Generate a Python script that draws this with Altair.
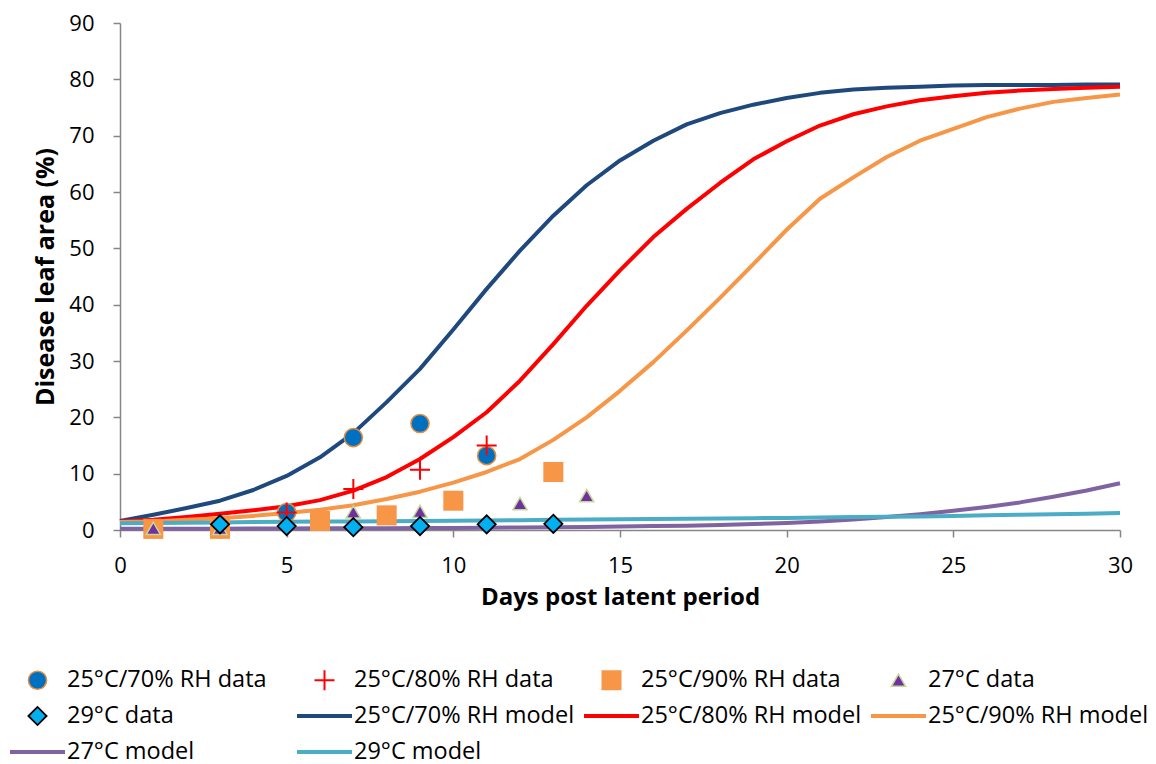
import altair as alt
import pandas as pd

# ---------------- data ----------------
series = [
    "25°C/70% RH data", "25°C/80% RH data", "25°C/90% RH data", "27°C data",
    "29°C data", "25°C/70% RH model", "25°C/80% RH model", "25°C/90% RH model",
    "27°C model", "29°C model",
]

days = list(range(31))
m70 = [1.6, 2.7, 3.9, 5.2, 7.1, 9.6, 12.9, 17.2, 22.7, 28.6, 35.6, 42.8, 49.6, 55.8, 61.2,
       65.6, 69.1, 72.0, 74.0, 75.5, 76.7, 77.6, 78.2, 78.5, 78.7, 78.9, 79.0, 79.0, 79.0, 79.1, 79.1]
m80 = [1.5, 1.8, 2.3, 2.9, 3.5, 4.2, 5.3, 7.0, 9.4, 12.6, 16.5, 20.9, 26.5, 33.0, 39.8,
       46.1, 52.0, 57.0, 61.6, 65.8, 69.0, 71.8, 73.8, 75.2, 76.3, 77.0, 77.6, 78.0, 78.3, 78.5, 78.7]
m90 = [1.4, 1.5, 1.8, 2.1, 2.5, 3.0, 3.6, 4.4, 5.5, 6.8, 8.4, 10.3, 12.6, 16.0, 20.0,
       24.7, 29.8, 35.4, 41.2, 47.2, 53.3, 58.8, 62.6, 66.2, 69.1, 71.2, 73.3, 74.8, 76.0, 76.7, 77.3]
m27 = [0.2, 0.2, 0.2, 0.2, 0.25, 0.25, 0.3, 0.3, 0.3, 0.35, 0.35, 0.4, 0.45, 0.5, 0.55,
       0.6, 0.7, 0.75, 0.9, 1.05, 1.25, 1.5, 1.85, 2.3, 2.8, 3.4, 4.1, 4.9, 5.9, 7.0, 8.3]
m29 = [1.2, 1.25, 1.3, 1.35, 1.4, 1.45, 1.5, 1.5, 1.55, 1.6, 1.65, 1.7, 1.75, 1.8, 1.85,
       1.9, 1.95, 2.0, 2.05, 2.1, 2.15, 2.2, 2.3, 2.35, 2.4, 2.5, 2.6, 2.7, 2.8, 2.9, 3.0]

d70_x = [5, 7, 9, 11]
d70_y = [3.1, 16.4, 18.9, 13.2]
d80_x = [5, 7, 9, 11]
d80_y = [3.1, 7.3, 10.7, 15.0]
d90_x = [1, 3, 6, 8, 10, 13]
d90_y = [0.2, 0.2, 1.6, 2.6, 5.2, 10.3]
d27_x = [1, 3, 7, 9, 12, 14]
d27_y = [0.3, 0.3, 3.2, 3.3, 4.7, 6.1]
d29_x = [3, 5, 7, 9, 11, 13]
d29_y = [1.0, 0.7, 0.5, 0.7, 1.0, 1.1]

x_ticks = [0, 5, 10, 15, 20, 25, 30]
y_ticks = [0, 10, 20, 30, 40, 50, 60, 70, 80, 90]

# ---------------- styles ----------------
fill_range = ["#0070C0", "transparent", "#F79646", "#7030A0", "#00B0F0",
              "transparent", "transparent", "transparent", "transparent", "transparent"]
stroke_range = ["#E58C3E", "#FF0000", "#F79646", "#C4D79B", "#000000",
                "#1F497D", "#FF0000", "#F79646", "#8064A2", "#4BACC6"]
shape_range = ["circle", "M-1,0H1M0,-1V1", "square", "triangle-up", "diamond",
               "stroke", "stroke", "stroke", "stroke", "stroke"]
size_range = [330, 400, 400, 200, 330, 3025, 3025, 3025, 3025, 3025]
sw_range = [1.5, 2, 0, 1.5, 1.8, 4, 4, 4, 4, 4]

FONT = "Open Sans"

# ---------------- tables ----------------
model_vals = [m70, m80, m90, m27, m29]
line_rows = []
for name, vals in zip(series[5:], model_vals):
    for d, v in zip(days, vals):
        line_rows.append({"series": name, "day": d, "value": v})
lines_df = pd.DataFrame(line_rows)

pt_sets = [(d70_x, d70_y), (d80_x, d80_y), (d90_x, d90_y), (d27_x, d27_y), (d29_x, d29_y)]
pt_rows = []
for name, (xs, ys) in zip(series[:5], pt_sets):
    for d, v in zip(xs, ys):
        pt_rows.append({"series": name, "day": d, "value": v})
pts_df = pd.DataFrame(pt_rows)

legend = alt.Legend(
    title=None, orient="none", direction="horizontal", legendX=-112, legendY=646,
    columns=4, gridAlign="all", columnPadding=7, rowPadding=12, clipHeight=22,
    labelFont=FONT, labelFontSize=23.5, labelLimit=600, labelOffset=0,
    labelColor="#000000",
)

x_enc = alt.X("day:Q", scale=alt.Scale(domain=[0, 30], nice=False),
              axis=alt.Axis(values=x_ticks, title="Days post latent period"))
y_enc = alt.Y("value:Q", scale=alt.Scale(domain=[0, 90], nice=False),
              axis=alt.Axis(values=y_ticks, title="Disease leaf area (%)"))

stroke_enc = alt.Stroke("series:N", scale=alt.Scale(domain=series, range=stroke_range), legend=legend)
sw_enc = alt.StrokeWidth("series:N", scale=alt.Scale(type="ordinal", domain=series, range=sw_range),
                         legend=legend)

lines = alt.Chart(lines_df).mark_line(opacity=1, strokeCap="butt", strokeJoin="round").encode(
    x=x_enc, y=y_enc, stroke=stroke_enc, strokeWidth=sw_enc,
    order=alt.Order("day:Q"),
)

points = alt.Chart(pts_df).mark_point(filled=True, opacity=1).encode(
    x=x_enc, y=y_enc,
    fill=alt.Fill("series:N", scale=alt.Scale(domain=series, range=fill_range), legend=legend),
    stroke=stroke_enc,
    shape=alt.Shape("series:N", scale=alt.Scale(domain=series, range=shape_range), legend=legend),
    size=alt.Size("series:N", scale=alt.Scale(type="ordinal", domain=series, range=size_range),
                  legend=legend),
    strokeWidth=sw_enc,
)

chart = alt.layer(lines, points).properties(
    width=1000, height=507,
    padding={"left": 8, "top": 12, "right": 2, "bottom": 2},
).configure_view(stroke=None).configure_axis(
    grid=False, domainColor="#868686", domainWidth=1.5, tickColor="#868686",
    tickWidth=1.5, tickSize=7, labelFont=FONT, labelFontSize=22, labelColor="#000000",
    labelFlush=False,
    titleFont=FONT, titleFontSize=24, titleFontWeight="bold", titleColor="#000000",
).configure_axisX(labelPadding=18, titlePadding=9).configure_axisY(
    labelPadding=19, titlePadding=10, titleFontSize=25
)

chart.save("out.html", embed_options={"renderer": "svg", "actions": False})
